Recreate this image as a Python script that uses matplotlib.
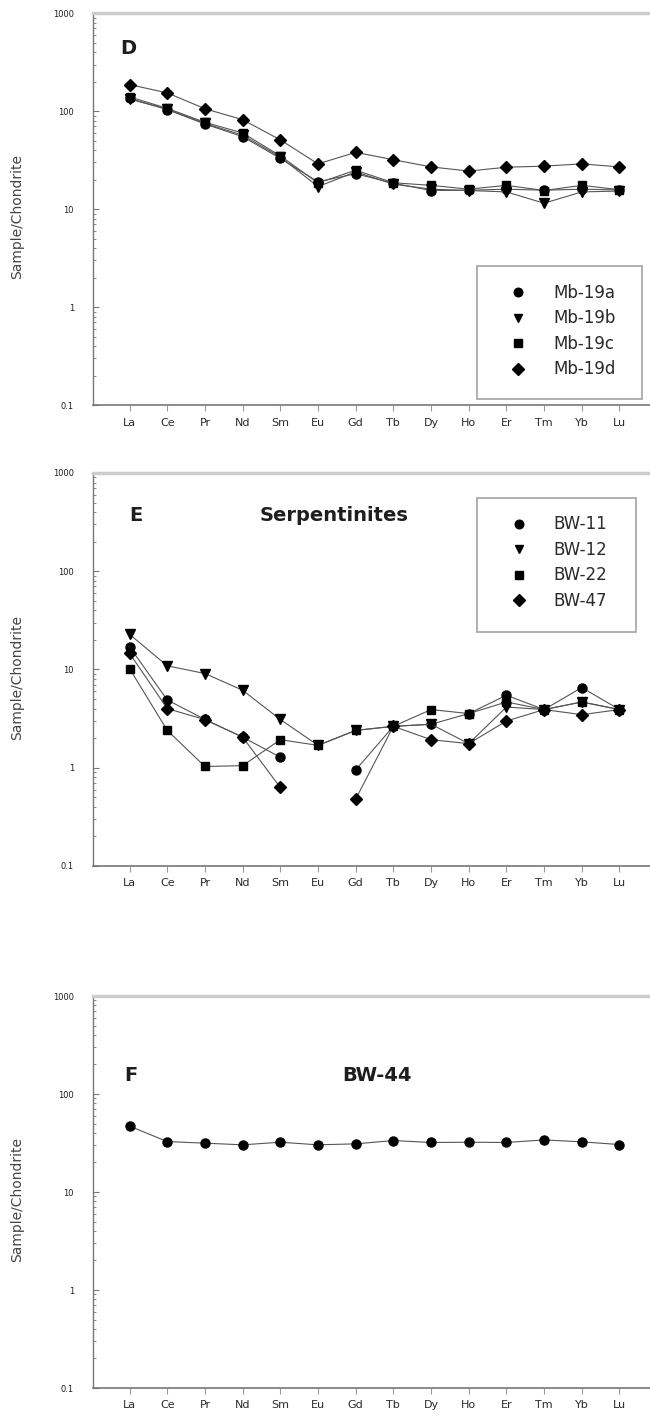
import matplotlib.pyplot as plt
import numpy as np
from matplotlib.lines import Line2D
from matplotlib.patches import Rectangle
from matplotlib.ticker import LogLocator, NullFormatter, FixedLocator, FixedFormatter

plt.rcParams['font.family'] = ['DejaVu Sans']

elements = ['La', 'Ce', 'Pr', 'Nd', 'Sm', 'Eu', 'Gd', 'Tb', 'Dy', 'Ho', 'Er', 'Tm', 'Yb', 'Lu']
nan = np.nan

# Panel D
mb19a = [135, 104, 74, 55, 33, 19, 23, 18.4, 15.5, 15.6, 16, 15.6, 16, 15.7]
mb19b = [133, 105, 75, 57, 34, 17, 24, 18, 16, 15.5, 15, 11.5, 15, 15.3]
mb19c = [140, 107, 77, 60, 35, 18.5, 25, 18.6, 17.5, 16, 17.5, 15.5, 17.5, 15.8]
mb19d = [187, 154, 106, 82, 51, 29, 38, 32, 27, 24.5, 26.8, 27.5, 29, 27]

# Panel E
bw11 = [17, 4.9, 3.1, 2.05, 1.28, nan, 0.95, 2.64, 2.77, 3.56, 5.47, 3.91, 6.55, 3.91]
bw12 = [22.8, 10.9, 9.1, 6.15, 3.1, 1.69, 2.4, 2.64, 2.77, 1.76, 4.15, 3.91, 4.67, 3.91]
bw22 = [10.2, 2.4, 1.03, 1.05, 1.93, 1.69, 2.4, 2.64, 3.91, 3.56, 4.67, 3.91, 4.67, 3.91]
bw47 = [14.6, 4.0, 3.09, 2.05, 0.63, nan, 0.48, 2.64, 1.93, 1.76, 2.99, 3.91, 3.47, 3.91]

# Panel F
bw44 = [47, 32.7, 31.5, 30.3, 32.2, 30.3, 31, 33.5, 32, 32.2, 32, 34, 32.5, 30.5]

markers = ['o', 'v', 's', 'D']
msizes = [6.5, 6.5, 6, 6]
txt = '#1e1e1e'

fig = plt.figure(figsize=(6.5, 14.24), dpi=100)
left = 93.4 / 650
width = 1 - left
H = 1424.0
boxes = [(13.3, 405), (473, 866), (996, 1388)]
axes = []
for top, bot in boxes:
    ax = fig.add_axes([left, 1 - bot / H, width, (bot - top) / H])
    axes.append(ax)

x = np.arange(len(elements))


def style(ax):
    ax.set_yscale('log')
    ax.set_ylim(0.1, 1000)
    ax.set_xlim(-0.96, 13.81)
    ax.yaxis.set_major_locator(FixedLocator([0.1, 1, 10, 100, 1000]))
    ax.yaxis.set_major_formatter(FixedFormatter(['0.1', '1', '10', '100', '1000']))
    ax.yaxis.set_minor_locator(LogLocator(base=10, subs=np.arange(2, 10)))
    ax.yaxis.set_minor_formatter(NullFormatter())
    ax.set_xticks(x)
    ax.set_xticklabels(elements)
    # y ticks point into the plot, labels sit well left of the axis
    ax.tick_params(axis='y', which='major', direction='in', length=4.5, width=0.8,
                   color='#777777', labelsize=6, labelcolor=txt, pad=14)
    ax.tick_params(axis='y', which='minor', direction='in', length=2.5, width=0.6,
                   color='#777777')
    ax.tick_params(axis='x', direction='out', length=4, width=0.8, color='#999999',
                   labelsize=8, labelcolor='#2a2a2a', pad=5)
    ax.spines['right'].set_visible(False)
    ax.spines['top'].set_color('#cccccc')
    ax.spines['top'].set_linewidth(2.5)
    ax.spines['left'].set_color('#777777')
    ax.spines['left'].set_linewidth(1.0)
    ax.spines['bottom'].set_color('#777777')
    ax.spines['bottom'].set_linewidth(1.2)
    ax.set_ylabel('Sample/Chondrite', fontsize=10, color='#444444')
    ax.yaxis.set_label_coords(-0.1247, 0.48)


def series(ax, vals):
    for v, m, ms in zip(vals, markers, msizes):
        ax.plot(x, v, color='#555555', lw=0.8, marker=m, ms=ms,
                mfc='black', mec='black', zorder=3)


def legend(ax, labels, anchor, rect):
    ax.add_patch(Rectangle(rect[:2], rect[2], rect[3], transform=ax.transAxes,
                           facecolor='white', edgecolor='#aaaaaa', lw=1.3, zorder=4))
    handles = [Line2D([], [], ls='none', marker=m, ms=ms * 0.95, mfc='black', mec='black')
               for m, ms in zip(markers, msizes)]
    leg = ax.legend(handles, labels, loc='upper left', bbox_to_anchor=anchor,
                    fontsize=12, frameon=False, labelspacing=0.45, handlelength=1.0,
                    handletextpad=1.6, borderpad=0, borderaxespad=0)
    leg.set_zorder(5)
    for t in leg.get_texts():
        t.set_color('#2a2a2a')


# Panel D
ax = axes[0]
style(ax)
series(ax, [mb19a, mb19b, mb19c, mb19d])
legend(ax, ['Mb-19a', 'Mb-19b', 'Mb-19c', 'Mb-19d'], (0.748, 0.309),
       (0.689, 0.0153, 0.2964, 0.3395))
ax.text(0.062, 0.911, 'D', transform=ax.transAxes, fontsize=14, fontweight='bold',
        color=txt, ha='center', va='center')

# Panel E
ax = axes[1]
style(ax)
series(ax, [bw11, bw12, bw22, bw47])
legend(ax, ['BW-11', 'BW-12', 'BW-22', 'BW-47'], (0.749, 0.892),
       (0.689, 0.5954, 0.2857, 0.341))
ax.text(0.077, 0.893, 'E', transform=ax.transAxes, fontsize=14, fontweight='bold',
        color=txt, ha='center', va='center')
ax.text(0.432, 0.893, 'Serpentinites', transform=ax.transAxes, fontsize=14,
        fontweight='bold', color=txt, ha='center', va='center')

# Panel F
ax = axes[2]
style(ax)
ax.plot(x, bw44, color='#555555', lw=0.8, marker='o', ms=6.5, mfc='black', mec='black')
ax.text(0.068, 0.796, 'F', transform=ax.transAxes, fontsize=14, fontweight='bold',
        color=txt, ha='center', va='center')
ax.text(0.509, 0.796, 'BW-44', transform=ax.transAxes, fontsize=14,
        fontweight='bold', color=txt, ha='center', va='center')

fig.savefig('out.png', dpi=100)
